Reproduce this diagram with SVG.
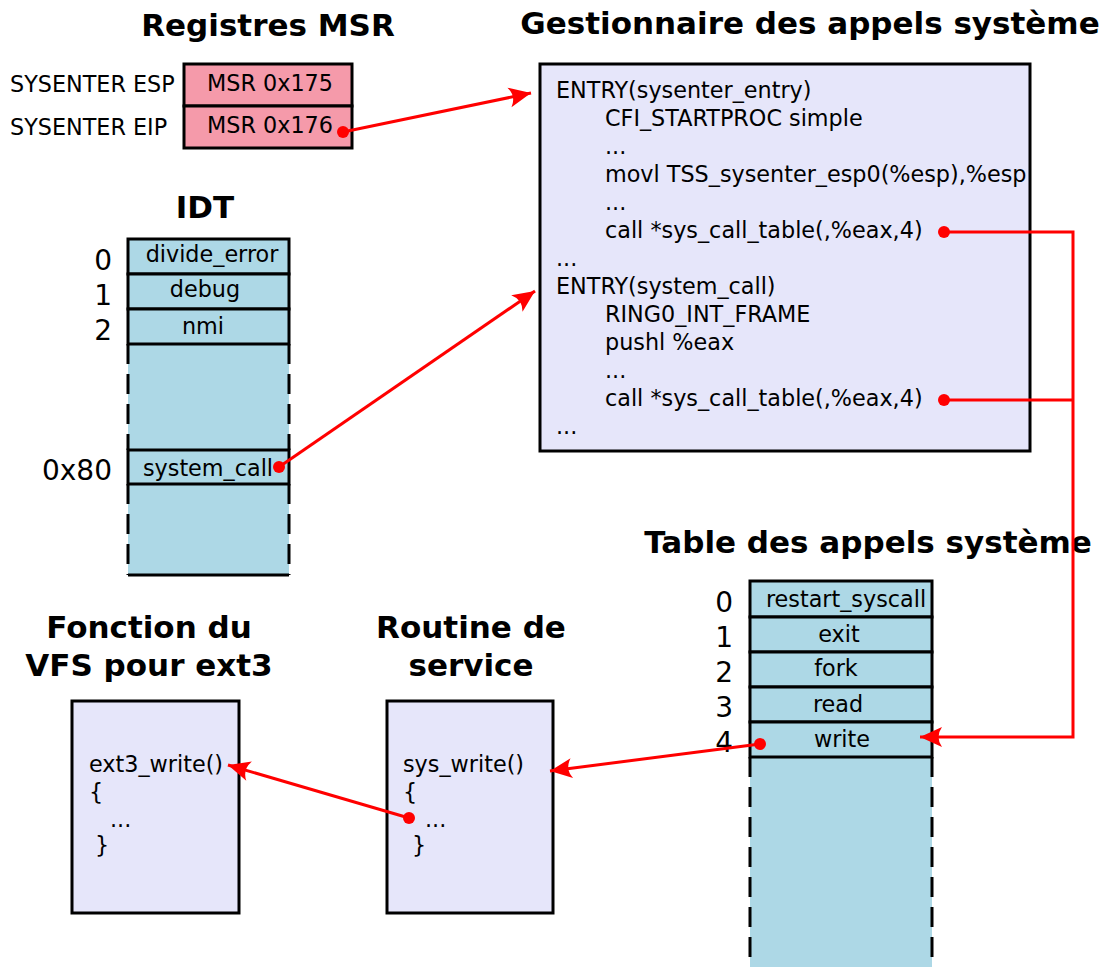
<svg xmlns="http://www.w3.org/2000/svg" width="1102" height="967" viewBox="0 0 1102 967">
  <style>
    text { font-family: "DejaVu Sans", "Liberation Sans", sans-serif; fill: #000; }
    .title { font-size: 31px; font-weight: bold; text-anchor: middle; }
    .txt { font-size: 22.3px; }
    .num { font-size: 28px; text-anchor: end; }
    .mid { text-anchor: middle; }
    .msr { fill: #f59aaa; stroke: #000; stroke-width: 3; }
    .cell { fill: #add8e6; stroke: #000; stroke-width: 3; }
    .bg { fill: #add8e6; stroke: none; }
    .dash { fill: none; stroke: #000; stroke-width: 3; stroke-dasharray: 20 10; }
    .solid { fill: none; stroke: #000; stroke-width: 3; }
    .code { fill: #e6e6fa; stroke: #000; stroke-width: 3; }
    .link { fill: none; stroke: #ff0000; stroke-width: 3; }
    .dot { fill: #ff0000; }
  </style>
  <defs>
    <marker id="arrow" markerUnits="userSpaceOnUse" viewBox="-24 -12 26 24" refX="0" refY="0" markerWidth="26" markerHeight="24" orient="auto">
      <path d="M0,0 L-22,-10 Q-15,0 -22,10 Z" fill="#ff0000"/>
    </marker>
  </defs>

  <!-- MSR registers -->
  <g id="msr">
    <text class="title" x="268" y="36">Registres MSR</text>
    <rect class="msr" x="184" y="64" width="168" height="42"/>
    <rect class="msr" x="184" y="106" width="168" height="42"/>
    <text class="txt mid" x="270" y="91">MSR 0x175</text>
    <text class="txt mid" x="270" y="133">MSR 0x176</text>
    <text class="txt" x="10" y="92">SYSENTER ESP</text>
    <text class="txt" x="10" y="135">SYSENTER EIP</text>
  </g>

  <!-- System call handler code -->
  <g id="handler">
    <text class="title" x="810" y="34">Gestionnaire des appels système</text>
    <rect class="code" x="540" y="64" width="490" height="387"/>
    <text class="txt" x="556" y="98">ENTRY(sysenter_entry)</text>
    <text class="txt" x="605" y="126">CFI_STARTPROC simple</text>
    <text class="txt" x="605" y="154">...</text>
    <text class="txt" x="605" y="182">movl TSS_sysenter_esp0(%esp),%esp</text>
    <text class="txt" x="605" y="210">...</text>
    <text class="txt" x="605" y="238">call *sys_call_table(,%eax,4)</text>
    <text class="txt" x="556" y="266">...</text>
    <text class="txt" x="556" y="294">ENTRY(system_call)</text>
    <text class="txt" x="605" y="322">RING0_INT_FRAME</text>
    <text class="txt" x="605" y="350">pushl %eax</text>
    <text class="txt" x="605" y="378">...</text>
    <text class="txt" x="605" y="406">call *sys_call_table(,%eax,4)</text>
    <text class="txt" x="556" y="434">...</text>
  </g>

  <!-- Interrupt descriptor table -->
  <g id="idt">
    <text class="title" x="205" y="218">IDT</text>
    <rect class="bg" x="128" y="344" width="161" height="231"/>
    <rect class="cell" x="128" y="239" width="161" height="35"/>
    <rect class="cell" x="128" y="274" width="161" height="35"/>
    <rect class="cell" x="128" y="309" width="161" height="35"/>
    <rect class="cell" x="128" y="450" width="161" height="34"/>
    <path class="dash" d="M128,344 V450 M289,344 V450 M128,484 V575 M289,484 V575"/>
    <path class="solid" d="M128,575 H289"/>
    <text class="txt mid" x="212" y="262">divide_error</text>
    <text class="txt mid" x="205" y="297">debug</text>
    <text class="txt mid" x="203" y="334">nmi</text>
    <text class="txt mid" x="208" y="476">system_call</text>
    <text class="num" x="112" y="270">0</text>
    <text class="num" x="112" y="305">1</text>
    <text class="num" x="112" y="340">2</text>
    <text class="num" x="112" y="480">0x80</text>
  </g>

  <!-- System call table -->
  <g id="syscall-table">
    <text class="title" x="868" y="553">Table des appels système</text>
    <rect class="bg" x="750" y="757" width="182" height="210"/>
    <rect class="cell" x="750" y="581" width="182" height="36"/>
    <rect class="cell" x="750" y="617" width="182" height="35"/>
    <rect class="cell" x="750" y="652" width="182" height="35"/>
    <rect class="cell" x="750" y="687" width="182" height="35"/>
    <rect class="cell" x="750" y="722" width="182" height="35"/>
    <path class="dash" d="M750,757 V967 M932,757 V967"/>
    <text class="txt mid" x="846" y="607">restart_syscall</text>
    <text class="txt mid" x="839" y="642">exit</text>
    <text class="txt mid" x="836" y="676">fork</text>
    <text class="txt mid" x="838" y="712">read</text>
    <text class="txt mid" x="842" y="747">write</text>
    <text class="num" x="733" y="612">0</text>
    <text class="num" x="733" y="647">1</text>
    <text class="num" x="733" y="682">2</text>
    <text class="num" x="733" y="717">3</text>
    <text class="num" x="733" y="752">4</text>
  </g>

  <!-- Service routine -->
  <g id="service">
    <text class="title" x="471" y="638">Routine de</text>
    <text class="title" x="471" y="676">service</text>
    <rect class="code" x="387" y="701" width="166" height="212"/>
    <text class="txt" x="403" y="772">sys_write()</text>
    <text class="txt" x="403" y="800">{</text>
    <text class="txt" x="425" y="827">...</text>
    <text class="txt" x="412" y="853">}</text>
  </g>

  <!-- ext3 VFS function -->
  <g id="vfs">
    <text class="title" x="149" y="638">Fonction du</text>
    <text class="title" x="149" y="676">VFS pour ext3</text>
    <rect class="code" x="72" y="701" width="167" height="212"/>
    <text class="txt" x="89" y="772">ext3_write()</text>
    <text class="txt" x="89" y="800">{</text>
    <text class="txt" x="110" y="827">...</text>
    <text class="txt" x="95" y="853">}</text>
  </g>

  <!-- Connectors -->
  <g id="connectors">
    <path class="link" d="M343,132 L531,93" marker-end="url(#arrow)"/>
    <circle class="dot" cx="343" cy="132" r="6"/>
    <path class="link" d="M279,467 L535,291" marker-end="url(#arrow)"/>
    <circle class="dot" cx="279" cy="467" r="6"/>
    <path class="link" d="M944,232 H1073 V737 H920" marker-end="url(#arrow)"/>
    <path class="link" d="M944,400 H1073"/>
    <circle class="dot" cx="944" cy="232" r="6"/>
    <circle class="dot" cx="944" cy="400" r="6"/>
    <path class="link" d="M760,744 L550,771" marker-end="url(#arrow)"/>
    <circle class="dot" cx="760" cy="744" r="6"/>
    <path class="link" d="M409,818 L228,765" marker-end="url(#arrow)"/>
    <circle class="dot" cx="409" cy="818" r="6"/>
  </g>
</svg>
